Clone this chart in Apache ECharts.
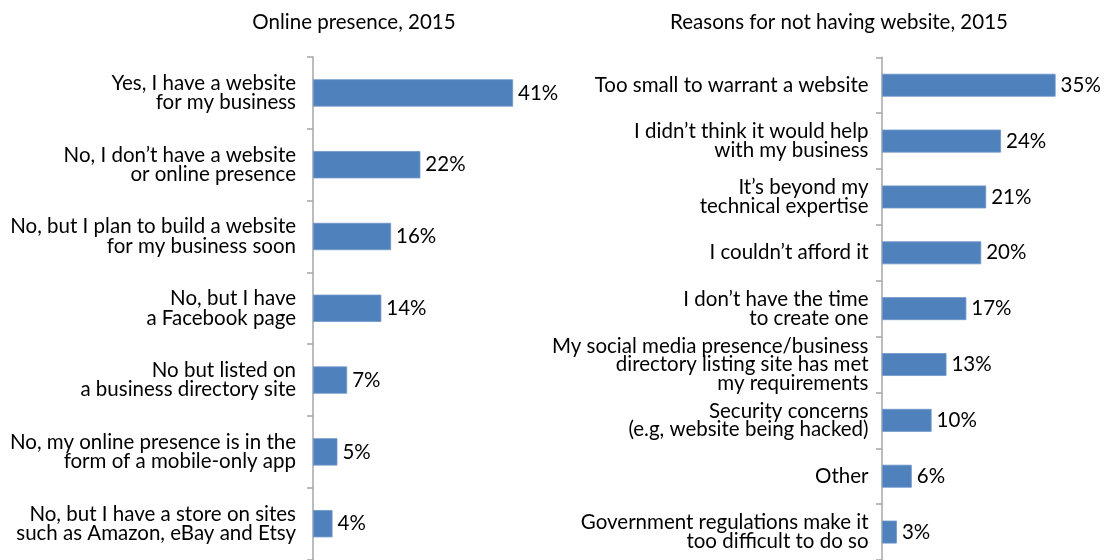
<!DOCTYPE html>
<html>
<head>
<meta charset="utf-8">
<script src="https://cdn.jsdelivr.net/npm/echarts@6/dist/echarts.min.js"></script>
<style>
  html, body { margin: 0; padding: 0; background: #fff; }
  #chart { width: 1108px; height: 560px; }
</style>
</head>
<body>
<div id="chart"></div>
<script>
// Left panel: online presence of small businesses, 2015
const onlineCategories = [
  "Yes, I have a website\nfor my business",
  "No, I don\u2019t have a website\nor online presence",
  "No, but I plan to build a website\nfor my business soon",
  "No, but I have\na Facebook page",
  "No but listed on\na business directory site",
  "No, my online presence is in the\nform of a mobile-only app",
  "No, but I have a store on sites\nsuch as Amazon, eBay and Etsy"
];
const onlineValues = [41, 22, 16, 14, 7, 5, 4];

// Right panel: reasons for not having a website, 2015
const reasonCategories = [
  "Too small to warrant a website",
  "I didn\u2019t think it would help\nwith my business",
  "It\u2019s beyond my\ntechnical expertise",
  "I couldn\u2019t afford it",
  "I don\u2019t have the time\nto create one",
  "My social media presence/business\ndirectory listing site has met\nmy requirements",
  "Security concerns\n(e.g, website being hacked)",
  "Other",
  "Government regulations make it\ntoo difficult to do so"
];
const reasonValues = [35, 24, 21, 20, 17, 13, 10, 6, 3];

const titles = ["Online presence, 2015", "Reasons for not having website, 2015"];

const FONT = "Lato";
const FS = 20.5;
const BAR = "#4F81BD";
const AXIS = "#A6A6A6";

function catAxis(gridIndex, cats, margin, lh) {
  return {
    type: "category",
    gridIndex: gridIndex,
    data: cats,
    inverse: true,
    axisLine: { show: true, lineStyle: { color: AXIS, width: 1.5 } },
    axisTick: { show: true, length: 6, lineStyle: { color: AXIS, width: 1.5 } },
    axisLabel: {
      margin: margin,
      fontFamily: FONT,
      fontSize: FS,
      color: "#000",
      lineHeight: lh,
      align: "right",
      interval: 0
    }
  };
}

function valAxis(gridIndex, max) {
  return {
    type: "value",
    gridIndex: gridIndex,
    min: 0,
    max: max,
    show: false,
    splitLine: { show: false }
  };
}

function barSeries(idx, values, gap) {
  return {
    type: "bar",
    xAxisIndex: idx,
    yAxisIndex: idx,
    data: values,
    barCategoryGap: gap,
    itemStyle: { color: BAR, borderColor: "#7096C8", borderWidth: 0.8 },
    label: {
      show: true,
      position: "right",
      distance: 5,
      formatter: "{c}%",
      fontFamily: FONT,
      fontSize: FS,
      color: "#000"
    },
    silent: true,
    animation: false
  };
}

const chart = echarts.init(document.getElementById("chart"), null, { renderer: "canvas" });
chart.setOption({
  animation: false,
  backgroundColor: "#fff",
  title: [
    { text: titles[0], left: 349, top: 5, textAlign: "center",
      textStyle: { fontFamily: FONT, fontSize: FS, fontWeight: "normal", color: "#000", lineHeight: 24 } },
    { text: titles[1], left: 834, top: 5, textAlign: "center",
      textStyle: { fontFamily: FONT, fontSize: FS, fontWeight: "normal", color: "#000", lineHeight: 24 } }
  ],
  grid: [
    { left: 313, top: 57, width: 219.6, height: 502.6, containLabel: false },
    { left: 882, top: 57.3, width: 223.2, height: 502.7, containLabel: false }
  ],
  xAxis: [valAxis(0, 45), valAxis(1, 45)],
  yAxis: [catAxis(0, onlineCategories, 17, 19.5), catAxis(1, reasonCategories, 13.5, 18.5)],
  series: [barSeries(0, onlineValues, "62%"), barSeries(1, reasonValues, "59%")]
});
</script>
</body>
</html>
